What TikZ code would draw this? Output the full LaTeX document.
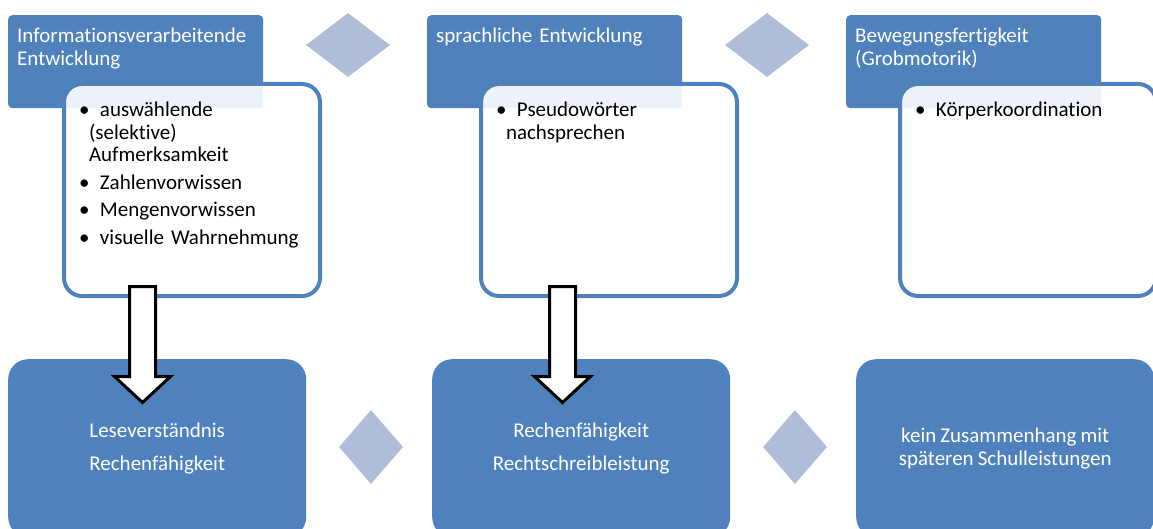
\documentclass[tikz,border=0pt]{standalone}
\usepackage{fontspec}
\setmainfont{Carlito}[Ligatures=NoCommon, WordSpace=0.85]
\usetikzlibrary{shapes.geometric}

\definecolor{blau}{RGB}{79,129,189}
\definecolor{hellblau}{RGB}{175,189,216}

\begin{document}
\begin{tikzpicture}[x=1pt,y=-1pt,
    kopf/.style={anchor=north west, fill=blau, text=white, rounded corners=4pt,
        text width=237pt, inner xsep=9pt, inner ysep=0pt,
        text height=27pt, text depth=66pt, align=left,
        font=\fontsize{21}{23.5}\selectfont},
    liste/.style={anchor=north west, draw=blau, line width=4pt, fill=white,
        fill opacity=0.9, text opacity=1, rounded corners=18pt,
        text width=226pt, inner xsep=15pt, inner ysep=0pt,
        text height=33pt, text depth=179pt, align=left,
        font=\fontsize{21}{22.5}\selectfont},
    ziel/.style={anchor=north west, fill=blau, text=white, rounded corners=20pt,
        minimum width=298pt, minimum height=178pt, align=center,
        font=\fontsize{21}{23}\selectfont},
    raute/.style={diamond, fill=hellblau, inner sep=0pt},
    pfeil/.style={draw=black, line width=3pt, fill=white, line join=miter}]

    % the frame of the picture
    \path[use as bounding box, clip] (0,0) rectangle (1153,529);

    % header boxes
    \node[kopf] (k1) at (8,15) {Informationsverarbeitende\\Entwicklung};
    \node[kopf] (k2) at (427,15) {sprachliche Entwicklung};
    \node[kopf] (k3) at (846,15) {Bewegungsfertigkeit\\(Grobmotorik)};

    % diamonds between the headers
    \node[raute, minimum width=84pt, minimum height=64pt] (r1) at (348,45) {};
    \node[raute, minimum width=84pt, minimum height=64pt] (r2) at (767,45) {};

    % white boxes with the bullets
    \node[liste] (l1) at (62,82) {\textbullet\enspace auswählende\\
        \hspace*{10pt}(selektive)\\
        \hspace*{10pt}Aufmerksamkeit\\[5pt]
        \textbullet\enspace Zahlenvorwissen\\[5pt]
        \textbullet\enspace Mengenvorwissen\\[5pt]
        \textbullet\enspace visuelle Wahrnehmung};
    \node[liste] (l2) at (479,82) {\textbullet\enspace Pseudowörter\\
        \hspace*{10pt}nachsprechen};
    \node[liste] (l3) at (898,82) {\textbullet\enspace Körperkoordination};

    % result boxes
    \node[ziel] (z1) at (8,359) {Leseverständnis\\[10pt]Rechenfähigkeit};
    \node[ziel] (z2) at (432,359) {Rechenfähigkeit\\[10pt]Rechtschreibleistung};
    \node[ziel] (z3) at (856,359) {kein Zusammenhang mit\\späteren Schulleistungen};

    % diamonds between the results
    \node[raute, minimum width=64pt, minimum height=74pt] (r3) at (371,447) {};
    \node[raute, minimum width=64pt, minimum height=74pt] (r4) at (795,447) {};

    % hollow arrows
    \coordinate (s1) at (142.5,286.5);
    \coordinate (s2) at (562.5,286.5);
    \draw[pfeil] (s1) ++(-13,0) -- ++(0,90) -- ++(-15,0) -- ++(28,26)
        -- ++(28,-26) -- ++(-15,0) -- ++(0,-90) -- cycle;
    \draw[pfeil] (s2) ++(-13,0) -- ++(0,90) -- ++(-15,0) -- ++(28,26)
        -- ++(28,-26) -- ++(-15,0) -- ++(0,-90) -- cycle;
\end{tikzpicture}
\end{document}
